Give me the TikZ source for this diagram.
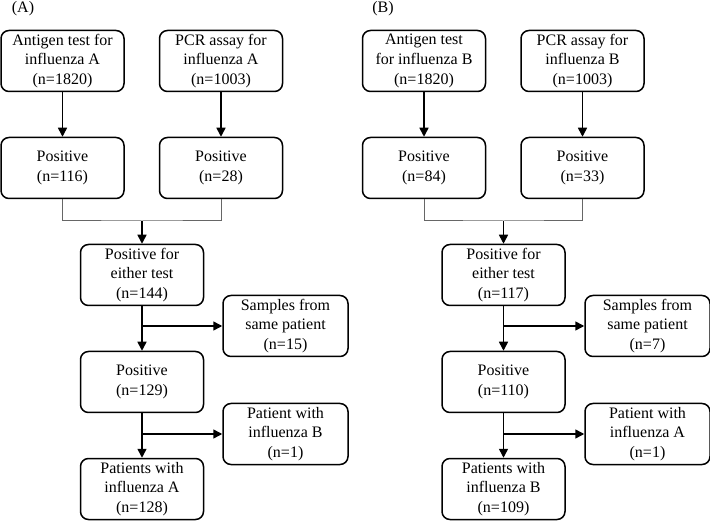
\documentclass[tikz,border=0pt]{standalone}
\usepackage{fontspec}
\setmainfont{Liberation Serif}
\usetikzlibrary{arrows.meta}
\tikzset{
  fbox/.style={draw, rounded corners=8pt, line width=1.5pt, minimum width=123pt, minimum height=61pt, align=center, inner sep=0pt, font=\fontsize{16}{19.7}\selectfont},
  sbox/.style={fbox, minimum width=125pt},
  arr/.style={line width=1.5pt, -{Triangle[length=9pt, width=9pt]}},
  joinline/.style={line width=1pt, draw=black!60},
  lab/.style={font=\fontsize{16}{19.7}\selectfont, inner sep=0pt}
}
\begin{document}
\begin{tikzpicture}[x=1pt, y=-1pt]
\useasboundingbox (0,0) rectangle (710,521);
% Panel A
\node[lab] (labA) at (23,9) {(A)};
\node[fbox] (a1) at (62.5,61) {Antigen test for\\influenza A\\(n=1820)};
\node[fbox] (a2) at (221,61) {PCR assay for\\influenza A\\(n=1003)};
\node[fbox] (a3) at (62.5,168) {Positive\\(n=116)};
\node[fbox] (a4) at (221,168) {Positive\\(n=28)};
\node[fbox] (a5) at (142,275) {Positive for\\either test\\(n=144)};
\node[sbox] (a6) at (285.5,326) {Samples from\\same patient\\(n=15)};
\node[fbox] (a7) at (142,382) {Positive\\(n=129)};
\node[sbox] (a8) at (285.5,434) {Patient with\\influenza B\\(n=1)};
\node[fbox] (a9) at (142,489) {Patients with\\influenza A\\(n=128)};
\coordinate (aj) at (142,221);
\coordinate (ab1) at (142,326);
\coordinate (ab2) at (142,434);
\draw[arr] (a1) -- (a3);
\draw[arr] (a2) -- (a4);
\draw[joinline] (a3.south) |- (aj) -| (a4.south);
\draw[arr] (aj) -- (a5.north);
\draw[arr] (a5) -- (a7);
\draw[arr] (ab1) -- (a6.west);
\draw[arr] (a7) -- (a9);
\draw[arr] (ab2) -- (a8.west);
% Panel B
\node[lab] (labB) at (383,9) {(B)};
\node[fbox] (b1) at (424,61) {Antigen test\\for influenza B\\(n=1820)};
\node[fbox] (b2) at (582.5,61) {PCR assay for\\influenza B\\(n=1003)};
\node[fbox] (b3) at (424,168) {Positive\\(n=84)};
\node[fbox] (b4) at (582.5,168) {Positive\\(n=33)};
\node[fbox] (b5) at (503.5,275) {Positive for\\either test\\(n=117)};
\node[sbox] (b6) at (647.5,326) {Samples from\\same patient\\(n=7)};
\node[fbox] (b7) at (503.5,382) {Positive\\(n=110)};
\node[sbox] (b8) at (647.5,434) {Patient with\\influenza A\\(n=1)};
\node[fbox] (b9) at (503.5,489) {Patients with\\influenza B\\(n=109)};
\coordinate (bj) at (503.5,221);
\coordinate (bb1) at (503.5,326);
\coordinate (bb2) at (503.5,434);
\draw[arr] (b1) -- (b3);
\draw[arr] (b2) -- (b4);
\draw[joinline] (b3.south) |- (bj) -| (b4.south);
\draw[arr] (bj) -- (b5.north);
\draw[arr] (b5) -- (b7);
\draw[arr] (bb1) -- (b6.west);
\draw[arr] (b7) -- (b9);
\draw[arr] (bb2) -- (b8.west);
\end{tikzpicture}
\end{document}
